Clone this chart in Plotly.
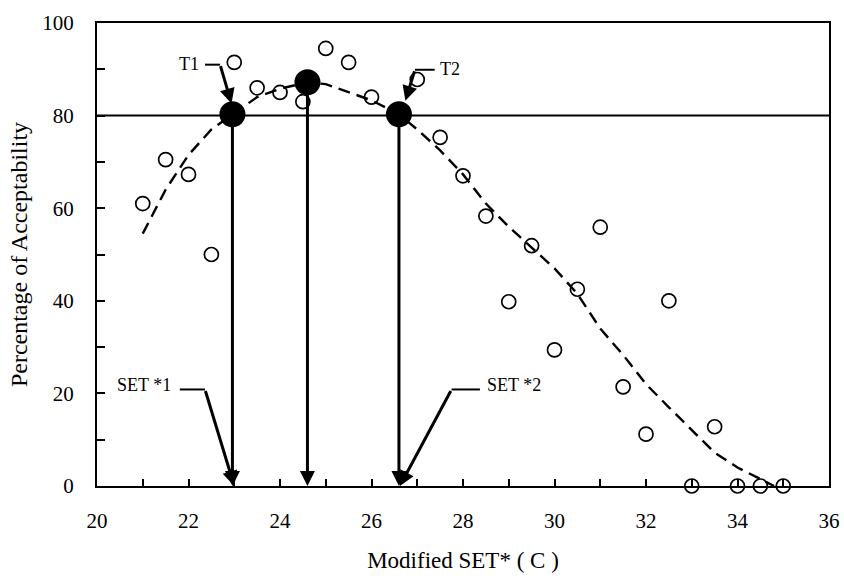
import plotly.graph_objects as go

# Observed acceptability (open circles)
obs_x = [21, 21.5, 22, 22.5, 23, 23.5, 24, 24.5, 25, 25.5, 26, 27, 27.5, 28, 28.5,
         29, 29.5, 30, 30.5, 31, 31.5, 32, 32.5, 33, 33.5, 34, 34.5, 35]
obs_y = [61, 70.5, 67.3, 50, 91.5, 86, 85, 83, 94.5, 91.5, 84, 87.8, 75.3, 67, 58.3,
         39.8, 51.9, 29.4, 42.5, 55.9, 21.4, 11.2, 40, 0, 12.8, 0, 0, 0]

# Fitted curve (dashed)
fit_x = [21, 21.5, 22, 22.5, 23, 23.5, 24, 24.6, 25, 25.5, 26, 26.6, 27, 27.5, 28,
         28.5, 29, 29.5, 30, 30.5, 31, 31.5, 32, 32.5, 33, 33.5, 34, 34.5, 34.8]
fit_y = [54.5, 64, 71.5, 77, 80.5, 84, 85.8, 87.2, 86.8, 85, 83.3, 80.3, 77, 72.5, 67.3,
         61, 56, 51.5, 47, 41.5, 34, 28.3, 22, 17, 12, 7.2, 4, 1.5, 0]

# Key points T1, peak, T2 (filled circles)
key_x = [22.96, 24.6, 26.6]
key_y = [80.3, 87.2, 80.3]

threshold = 80

serif = "Liberation Serif, Times New Roman, serif"

fig = go.Figure()

fig.add_trace(go.Scatter(x=fit_x, y=fit_y, mode="lines",
                         line=dict(color="black", width=2.4, dash="12px,7px"),
                         hoverinfo="skip", showlegend=False))
fig.add_trace(go.Scatter(x=obs_x, y=obs_y, mode="markers",
                         marker=dict(symbol="circle-open", size=14, color="black",
                                     line=dict(width=1.7, color="black")),
                         cliponaxis=False, showlegend=False))
fig.add_trace(go.Scatter(x=key_x, y=key_y, mode="markers",
                         marker=dict(symbol="circle", size=26, color="black"),
                         showlegend=False))

fig.add_shape(type="line", xref="paper", x0=0, x1=1, yref="y", y0=threshold, y1=threshold,
              line=dict(color="black", width=2))

annotations = []
# Vertical arrows from key points down to x axis
for kx, ky in zip(key_x, key_y):
    annotations.append(dict(x=kx, y=0, ax=kx, ay=ky, xref="x", yref="y",
                            axref="x", ayref="y", text="", showarrow=True,
                            arrowhead=2, arrowsize=1.0, arrowwidth=3,
                            arrowcolor="black", standoff=0))

def callout(label, lx, ly, anchor, seg, tip):
    annotations.append(dict(x=lx, y=ly, xref="x", yref="y", text=label, showarrow=False,
                            xanchor=anchor, yanchor="middle",
                            font=dict(family=serif, size=18, color="black")))
    fig.add_shape(type="line", xref="x", yref="y", x0=seg[0], x1=seg[1],
                  y0=seg[2], y1=seg[2], line=dict(color="black", width=2))
    annotations.append(dict(x=tip[0], y=tip[1], ax=seg[0], ay=seg[2],
                            xref="x", yref="y", axref="x", ayref="y",
                            text="", showarrow=True, arrowhead=2, arrowsize=1.0,
                            arrowwidth=3, arrowcolor="black", standoff=0))

callout("T1", 22.27, 91.2, "right", (22.69, 22.36, 91.0), (22.94, 82.6))
callout("T2", 27.45, 90.1, "left", (26.95, 27.38, 89.9), (26.74, 83.2))
callout("SET *1", 21.66, 21.8, "right", (22.36, 21.81, 20.85), (23.0, 0))
callout("SET *2", 28.48, 21.8, "left", (27.75, 28.37, 20.85), (26.62, 0))

fig.update_layout(
    width=844, height=578,
    margin=dict(l=97, r=15, t=23, b=92),
    paper_bgcolor="white", plot_bgcolor="white",
    font=dict(family=serif, color="black"),
    annotations=annotations,
    showlegend=False,
)

fig.update_xaxes(range=[20, 36], dtick=2, tick0=20, showgrid=False, zeroline=False,
                 automargin=False,
                 showline=True, linecolor="black", linewidth=2, mirror=True,
                 ticks="inside", ticklen=7, tickwidth=1.5, tickcolor="black",
                 minor=dict(dtick=1, ticks="inside", ticklen=7, tickwidth=1.5, tickcolor="black"),
                 tickfont=dict(family=serif, size=21, color="black"),
                 ticklabelstandoff=15,
                 title=dict(text="Modified SET* ( C )", standoff=20,
                            font=dict(family=serif, size=23, color="black")))
fig.update_yaxes(range=[0, 100], dtick=20, tick0=0, showgrid=False, zeroline=False,
                 automargin=False,
                 showline=True, linecolor="black", linewidth=2, mirror=True,
                 ticks="inside", ticklen=8, tickwidth=1.5, tickcolor="black",
                 minor=dict(dtick=10, ticks="inside", ticklen=8, tickwidth=1.5, tickcolor="black"),
                 tickfont=dict(family=serif, size=21, color="black"),
                 ticklabelstandoff=17,
                 title=dict(text="Percentage of Acceptability", standoff=8,
                            font=dict(family=serif, size=24, color="black")))

fig.write_html("out.html")
